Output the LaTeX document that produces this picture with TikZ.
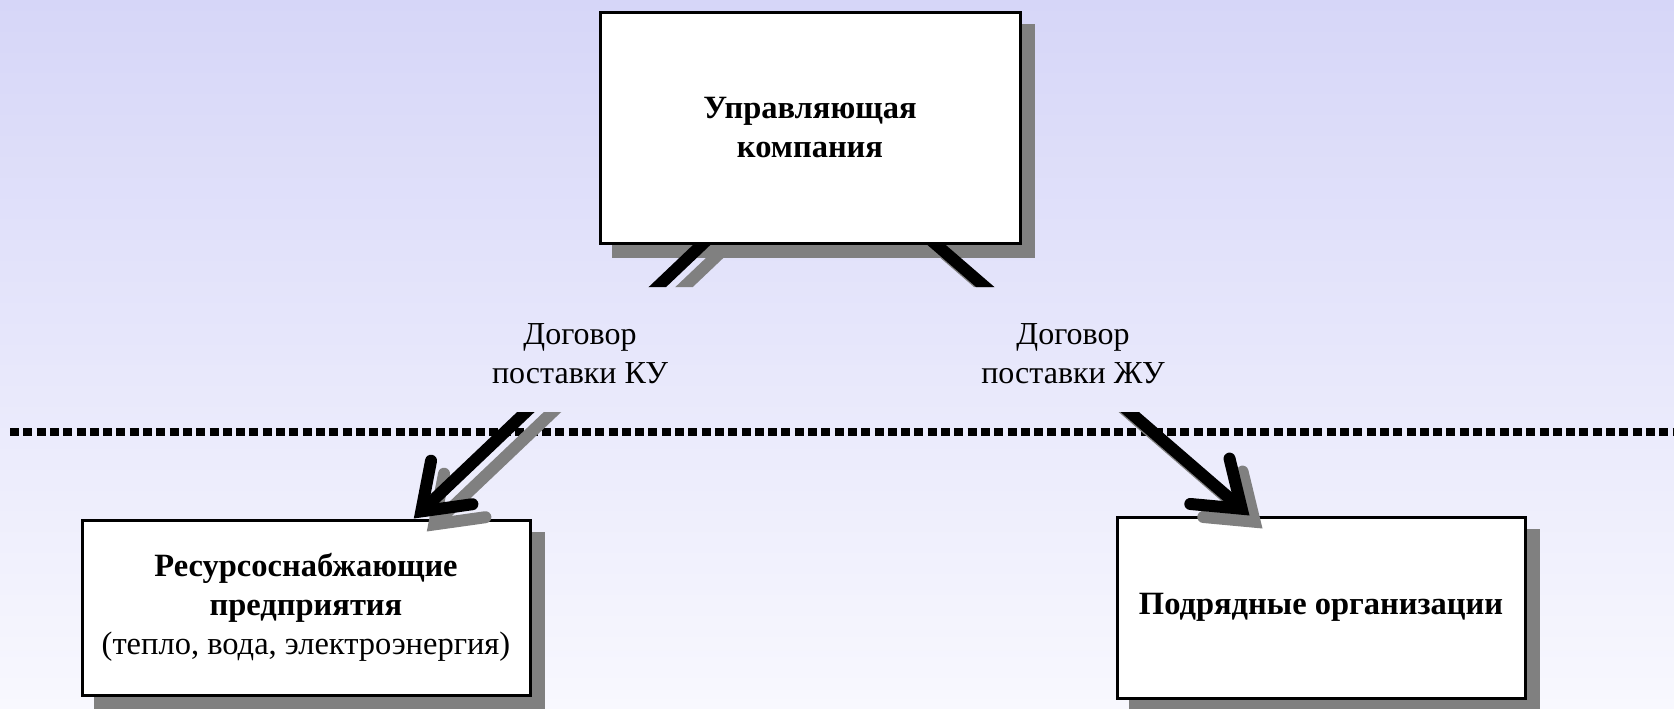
\documentclass[tikz,border=0pt]{standalone}
\usepackage{fontspec}
\setmainfont{Liberation Serif}
\usetikzlibrary{arrows.meta,calc}

\pgfdeclarelayer{bg}
\pgfdeclarelayer{shadows}
\pgfdeclarelayer{front}
\pgfsetlayers{bg,shadows,main,front}

\definecolor{bgtop}{RGB}{214,214,248}
\definecolor{bgbottom}{RGB}{248,248,254}
\definecolor{shadowgray}{RGB}{128,128,128}

\begin{document}
\begin{tikzpicture}[x=1pt,y=-1pt,
  box/.style={draw=black, line width=3pt, fill=white, inner sep=0pt, align=center,
    font=\fontsize{32.5}{39}\selectfont\bfseries},
  lbltext/.style={align=center, inner sep=0pt, font=\fontsize{32}{39}\selectfont},
  link/.style={line width=12pt, draw=black,
    -{Straight Barb[length=42pt,width=60pt,line cap=round,line join=miter]}},
  linkshadow/.style={link, draw=shadowgray, transform canvas={shift={(13,13)}}},
  dotline/.style={line width=8pt, dash pattern=on 9pt off 4.3pt}
]
\useasboundingbox (0,0) rectangle (1674,709);

% background gradient
\begin{pgfonlayer}{bg}
  \shade[top color=bgtop, bottom color=bgbottom] (0,0) rectangle (1674,709);
\end{pgfonlayer}

% boxes
\begin{pgfonlayer}{front}
  \node[box, minimum width=420pt, minimum height=230pt] (uk) at (810,128)
    {Управляющая\\компания};
\end{pgfonlayer}
\node[box, minimum width=448pt, minimum height=175pt] (rso) at (306,607.5)
  {Ресурсоснабжающие\\предприятия\\{\mdseries (тепло, вода, электроэнергия)}};
\node[box, minimum width=408pt, minimum height=181pt] (podr) at (1321,607.5)
  {Подрядные организации};

% box shadows
\begin{pgfonlayer}{shadows}
  \foreach \b in {uk,rso,podr}
    \fill[shadowgray] ($(\b.north west)+(13,13)$) rectangle ($(\b.south east)+(13,13)$);
\end{pgfonlayer}

% dividing dotted line
\coordinate (dl) at (10,432);
\coordinate (dr) at (1674,432);
\draw[dotline] (dl) -- (dr);

% contract labels
\node[lbltext] (ku) at (580,354) {Договор\\поставки КУ};
\node[lbltext] (zhu) at (1073,354) {Договор\\поставки ЖУ};

% arrow end points on the boxes
\coordinate (s1) at ($(uk.south west)!0.245!(uk.south east)$);
\coordinate (t1) at ($(rso.north west)!0.739!(rso.north east)$);
\coordinate (s2) at ($(uk.south west)!0.798!(uk.south east)$);
\coordinate (t2) at ($(podr.north west)!0.326!(podr.north east)$);

% arrows, interrupted where the labels sit
\begin{scope}
  \clip (0,0) rectangle (1674,287) (0,412) rectangle (1674,709);
  \draw[linkshadow] ($(s1)!-25pt!(t1)$) -- (t1);
  \draw[linkshadow] ($(s2)!-25pt!(t2)$) -- (t2);
  \draw[link] ($(s1)!-25pt!(t1)$) -- (t1);
  \draw[link] ($(s2)!-25pt!(t2)$) -- (t2);
\end{scope}
\end{tikzpicture}
\end{document}
